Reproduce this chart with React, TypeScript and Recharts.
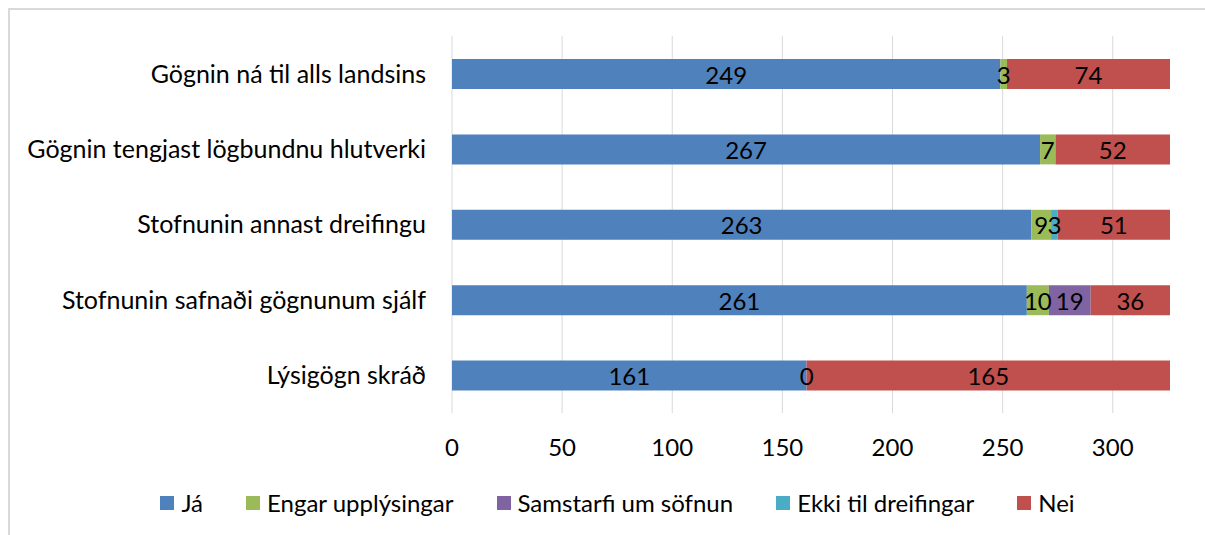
import { BarChart, Bar, XAxis, YAxis, CartesianGrid, Legend, LabelList } from "recharts";

const categories = [
  "Gögnin ná til alls landsins",
  "Gögnin tengjast lögbundnu hlutverki",
  "Stofnunin annast dreifingu",
  "Stofnunin safnaði gögnunum sjálf",
  "Lýsigögn skráð",
];

const ja = [249, 267, 263, 261, 161];
const engar = [3, 7, 9, 10, 0];
const samstarfi: (number | null)[] = [null, null, null, 19, null];
const ekki: (number | null)[] = [null, null, 3, null, null];
const nei = [74, 52, 51, 36, 165];

const xTicks = [0, 50, 100, 150, 200, 250, 300];

const series = [
  { key: "ja", name: "Já", color: "#4F81BD" },
  { key: "engar", name: "Engar upplýsingar", color: "#9BBB59" },
  { key: "samstarfi", name: "Samstarfi um söfnun", color: "#8064A2" },
  { key: "ekki", name: "Ekki til dreifingar", color: "#4BACC6" },
  { key: "nei", name: "Nei", color: "#C0504D" },
];

const FONT = "Lato, 'Open Sans', sans-serif";
const FS = 24;

const data = categories.map((name, i) => ({
  name,
  ja: ja[i],
  engar: engar[i],
  samstarfi: samstarfi[i],
  ekki: ekki[i],
  nei: nei[i],
}));

function labelText(x: number, y: number, value: any) {
  return (
    <text
      x={x}
      y={y}
      textAnchor="middle"
      dominantBaseline="central"
      fontSize={FS}
      fontFamily={FONT}
      fill="#000"
    >
      {value}
    </text>
  );
}

function SegmentLabel(props: any) {
  const { x, y, width, height, value } = props;
  if (value === null || value === undefined) return null;
  return labelText(Number(x) + Number(width) / 2, Number(y) + Number(height) / 2, value);
}

// zero-width segments get no label from recharts, so the "Já" label also
// writes a 0 for "Engar upplýsingar" at the end of its bar
function JaLabel(props: any) {
  const { x, y, width, height, value, index } = props;
  const cx = Number(x) + Number(width) / 2;
  const cy = Number(y) + Number(height) / 2;
  return (
    <g>
      {labelText(cx, cy, value)}
      {engar[index] === 0 && labelText(Number(x) + Number(width), cy, 0)}
    </g>
  );
}

function LegendContent() {
  return (
    <div style={{ display: "flex", justifyContent: "center", fontFamily: FONT, fontSize: FS, color: "#000" }}>
      {series.map((s, i) => (
        <div
          key={s.key}
          style={{ display: "flex", alignItems: "center", marginRight: i < series.length - 1 ? 43 : 0 }}
        >
          <span style={{ width: 14, height: 14, background: s.color, marginRight: 7, display: "inline-block" }} />
          <span>{s.name}</span>
        </div>
      ))}
    </div>
  );
}

export default function App() {
  return (
    <>
      <style>{"html,body{margin:0;overflow:hidden;background:#fff}"}</style>
      <div
        style={{
          position: "fixed",
          left: 8,
          top: 8,
          width: 1197,
          height: 527,
          boxSizing: "border-box",
          borderTop: "2px solid #D9D9D9",
          borderLeft: "2px solid #D9D9D9",
          background: "#fff",
          overflow: "hidden",
        }}
      >
        <BarChart
          width={1195}
          height={525}
          data={data}
          layout="vertical"
          margin={{ top: 26, right: 35, bottom: 82, left: 0 }}
          barSize={30}
        >
          <CartesianGrid horizontal={false} stroke="#D9D9D9" verticalValues={xTicks} />
          <XAxis
            type="number"
            domain={[0, 326]}
            ticks={xTicks}
            axisLine={false}
            tickLine={false}
            tickMargin={20}
            tick={{ fontSize: FS, fontFamily: FONT, fill: "#000" }}
            height={40}
          />
          <YAxis
            type="category"
            dataKey="name"
            width={442}
            axisLine={false}
            tickLine={false}
            tickMargin={20}
            tick={{ fontSize: 25, fontFamily: FONT, fill: "#000" }}
          />
          <Legend
            verticalAlign="middle"
            align="center"
            content={<LegendContent />}
            wrapperStyle={{ top: 478, left: 10, width: 1195 }}
          />
          {series.map((s) => (
            <Bar key={s.key} dataKey={s.key} name={s.name} stackId="a" fill={s.color} isAnimationActive={false}>
              <LabelList dataKey={s.key} content={s.key === "ja" ? <JaLabel /> : <SegmentLabel />} />
            </Bar>
          ))}
        </BarChart>
      </div>
    </>
  );
}
